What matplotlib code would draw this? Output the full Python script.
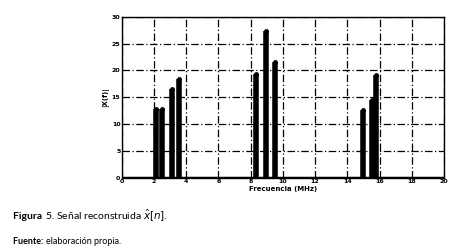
import matplotlib
matplotlib.use("Agg")
import matplotlib.pyplot as plt

freqs = [2.14, 2.52, 3.10, 3.53, 8.31, 8.93, 9.53, 14.95, 15.54, 15.76]
mags = [12.9, 12.9, 16.5, 18.4, 19.4, 27.3, 21.6, 12.7, 14.5, 19.2]
xticks = list(range(0, 21, 2))
yticks = list(range(0, 31, 5))


def caption(fig, x, y, parts, size):
    # draw bold/regular pieces one after another on the same line
    renderer = fig.canvas.get_renderer()
    for txt, weight in parts:
        t = fig.text(x, y, txt, fontsize=size, fontweight=weight, va="center",
                     family="Lato")
        bb = t.get_window_extent(renderer=renderer)
        x += bb.width / fig.bbox.width


def main():
    fig = plt.figure(figsize=(4.53, 2.49), dpi=100)
    ax = fig.add_axes([0.269, 0.286, 0.711, 0.647])

    ax.vlines(freqs, 0, mags, colors="black", linewidth=4.0, zorder=3)
    ax.plot(freqs, mags, "o", color="black", markersize=2.5, zorder=4)
    ax.hlines(0, 0, 20, colors="black", linewidth=2.5, zorder=3)

    ax.set_xlim(0, 20)
    ax.set_ylim(0, 30)
    ax.set_xticks(xticks)
    ax.set_yticks(yticks)
    ax.tick_params(labelsize=4.5, length=0, pad=1)
    for lbl in ax.get_xticklabels() + ax.get_yticklabels():
        lbl.set_fontweight("bold")
    ax.grid(True, color="black", linestyle=(0, (6, 2, 1, 2)), linewidth=0.9)
    for sp in ax.spines.values():
        sp.set_linewidth(1.0)

    ax.set_xlabel("Frecuencia (MHz)", fontsize=5, fontweight="bold", labelpad=1)
    ax.set_ylabel("|X(f)|", fontsize=5, fontweight="bold", labelpad=2)

    caption(fig, 0.029, 0.132,
            [("Figura ", "bold"), (r"5. Señal reconstruida $\hat{x}[n]$.", "normal")], 7.5)
    caption(fig, 0.029, 0.032,
            [("Fuente: ", "bold"), ("elaboración propia.", "normal")], 6.5)

    fig.savefig("out.png", dpi=100)


if __name__ == "__main__":
    main()
